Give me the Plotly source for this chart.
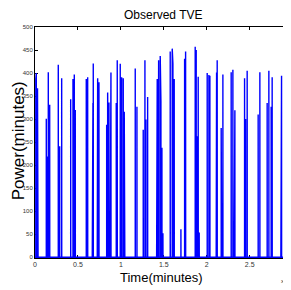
import plotly.graph_objects as go

# Observed TVE: each burst of activity
pulse_time_min = [93, 151, 291, 349, 1315, 1432, 1548, 1711, 2712, 2875, 3108,
                  4155, 4423, 4575, 4691, 5971, 6134, 6670, 6751, 6786, 7252, 7298,
                  7450, 8346, 8462, 8532, 8614, 8765, 8846, 9463, 9580, 9929, 10092,
                  10278, 10395, 10453, 11675, 11873, 12606, 12804, 12920, 13118,
                  14166, 14236, 14352, 14399, 14585, 14666, 14783, 14899, 15749,
                  15982, 16063, 16215, 16994, 17425, 17495, 17541, 18659, 18775,
                  18892, 19008, 19125, 20056, 20254, 20370, 21103, 21150, 21220,
                  21686, 21732, 21883, 22849, 23047, 23199, 23280, 24409, 24526,
                  24712, 25992, 26190, 27040, 27238, 27505, 27622, 28634, 28716,
                  29065]
pulse_power = [387, 400, 367, 263, 301, 219, 402, 331, 418, 241, 389,
               343, 387, 397, 320, 387, 391, 63, 335, 421, 387, 389,
               380, 288, 358, 52, 336, 398, 401, 335, 428, 420, 391,
               389, 316, 52, 410, 327, 277, 428, 299, 348,
               276, 387, 391, 428, 437, 340, 238, 52, 447,
               453, 420, 387, 61, 431, 300, 447, 457, 450,
               263, 392, 54, 400, 396, 394, 331, 401, 428,
               281, 278, 397, 402, 407, 300, 319, 389, 300,
               405, 310, 402, 335, 405, 327, 391, 295, 394,
               396]

x_end_min = 29700
x_tick_vals = [0, 5000, 10000, 15000, 20000, 25000]
x_tick_text = ["0", "0.5", "1", "1.5", "2", "2.5"]
y_tick_vals = [0, 50, 100, 150, 200, 250, 300, 350, 400, 450, 500]

# build the time series: zero baseline with narrow spikes
xs, ys = [0], [0]
for t, p in zip(pulse_time_min, pulse_power):
    xs += [t, t, t + 8]
    ys += [0, p, 0]
xs.append(x_end_min)
ys.append(0)

fig = go.Figure()
fig.add_trace(go.Scatter(x=xs, y=ys, mode="lines",
                         line=dict(color="#0000ff", width=1.4),
                         hoverinfo="skip", showlegend=False))

fam = "Liberation Sans, Arial, sans-serif"

# page body has an 8px default margin, so the figure is sized to fit the window
fig.update_layout(
    width=283, height=282,
    margin=dict(l=27, r=1, t=19, b=32),
    paper_bgcolor="white", plot_bgcolor="white",
    font=dict(family=fam, color="#333"),
)
fig.update_xaxes(range=[0, x_end_min], tickvals=x_tick_vals, ticktext=x_tick_text,
                 ticks="inside", ticklen=3, tickcolor="black", showline=True,
                 linecolor="black", linewidth=1, mirror="ticks", showgrid=False,
                 zeroline=False, layer="below traces", automargin=False,
                 tickfont=dict(size=7, color="#333"))
fig.update_yaxes(range=[-1.5, 500], tickvals=y_tick_vals,
                 ticks="inside", ticklen=3, tickcolor="black", showline=True,
                 linecolor="black", linewidth=1, mirror="ticks", showgrid=False,
                 zeroline=False, layer="below traces", automargin=False,
                 tickfont=dict(size=6, color="#333"))

def label(text, x, y, size, angle=0, color="black", xanchor="center"):
    fig.add_annotation(text=text, xref="paper", yref="paper", x=x, y=y,
                       xanchor=xanchor, yanchor="middle", textangle=angle,
                       showarrow=False, font=dict(family=fam, size=size, color=color))

label("Observed TVE", 0.502, 1.052, 12)
label("Time(minutes)", 0.498, -0.086, 13)
label("Power(minutes)", -0.066, 0.506, 17, angle=-90)
label("x 10<sup>4</sup>", 0.957, -0.097, 6, color="#333", xanchor="left")

fig.write_html("out.html")
